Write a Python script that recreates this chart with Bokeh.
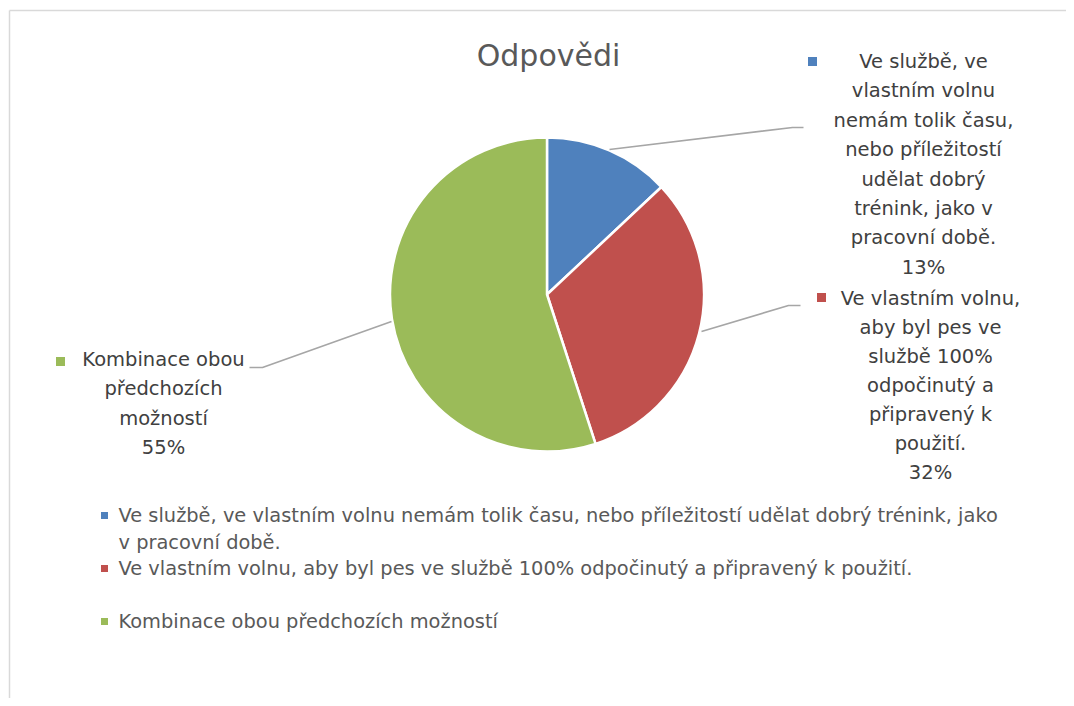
import math
from bokeh.plotting import figure
from bokeh.models import Range1d, ColumnDataSource
from bokeh.core.properties import value
from bokeh.embed import file_html
from bokeh.resources import INLINE

# ---- data ----
categories = [
    "Ve službě, ve vlastním volnu nemám tolik času, nebo příležitostí udělat dobrý trénink, jako v pracovní době.",
    "Ve vlastním volnu, aby byl pes ve službě 100% odpočinutý a připravený k použití.",
    "Kombinace obou předchozích možností",
]
shares = [0.13, 0.32, 0.55]
colors = ["#4F81BD", "#C0504D", "#9BBB59"]
title_text = "Odpovědi"

# wrapped data-label lines (as shown in the chart)
label_lines = [
    ["Ve službě, ve", "vlastním volnu", "nemám tolik času,", "nebo příležitostí",
     "udělat dobrý", "trénink, jako v", "pracovní době."],
    ["Ve vlastním volnu,", "aby byl pes ve", "službě 100%", "odpočinutý a",
     "připravený k", "použití."],
    ["Kombinace obou", "předchozích", "možností"],
]
legend_lines = [
    ["Ve službě, ve vlastním volnu nemám tolik času, nebo příležitostí udělat dobrý trénink, jako",
     "v pracovní době."],
    ["Ve vlastním volnu, aby byl pes ve službě 100% odpočinutý a připravený k použití."],
    ["Kombinace obou předchozích možností"],
]

# ---- layout (page pixel coordinates) ----
W, H = 1066, 698
OX, OY = 0, 0
FONT = "DejaVu Sans"


def X(px):
    return px - OX


def Y(py):
    return H - (py - OY)


p = figure(width=W, height=H, output_backend="svg", toolbar_location=None,
           x_range=Range1d(0, W), y_range=Range1d(0, H), min_border=0)
p.axis.visible = False
p.grid.visible = False
p.outline_line_color = None
p.background_fill_color = "white"

# frame
p.line([X(9), X(9)], [Y(706), Y(10)], line_color="#D9D9D9", line_width=1.5)
p.line([X(9), X(1074)], [Y(10), Y(10)], line_color="#D9D9D9", line_width=1.5)

# title
p.text(x=[X(548)], y=[Y(55)], text=[title_text], text_font=value(FONT),
       text_font_size="30px", text_color="#595959", text_align="center",
       text_baseline="middle")

# pie
cx, cy, r = 546.5, 294, 157
starts, ends = [], []
cum = 0.0
for s in shares:
    starts.append(math.pi / 2 - cum * 2 * math.pi)
    cum += s
    ends.append(math.pi / 2 - cum * 2 * math.pi)
src = ColumnDataSource(dict(start=starts, end=ends, color=colors))
p.wedge(x=X(cx), y=Y(cy), radius=r, start_angle="start", end_angle="end",
        direction="clock", fill_color="color", line_color="white",
        line_width=2.5, source=src)

# leader lines
leaders = [
    ([609, 792, 803], [149, 127, 127]),
    ([701, 788, 800], [331, 305, 305]),
    ([391, 262, 249], [321, 367, 367]),
]
for lx, ly in leaders:
    p.line([X(v) for v in lx], [Y(v) for v in ly], line_color="#A6A6A6",
           line_width=1.6)

# data labels
label_cx = [923, 930, 163]
label_y0 = [61, 298, 359]
label_step = [29.4, 29.0, 29.3]
marker_pos = [(812, 61), (821, 297), (60, 361)]
tx, ty, tt = [], [], []
for i, lines in enumerate(label_lines):
    allines = lines + [f"{round(shares[i] * 100)}%"]
    for j, ln in enumerate(allines):
        tx.append(X(label_cx[i]))
        ty.append(Y(label_y0[i] + j * label_step[i]))
        tt.append(ln)
p.text(x=tx, y=ty, text=tt, text_font=value(FONT), text_font_size="19.5px",
       text_color="#404040", text_align="center", text_baseline="middle")
p.rect(x=[X(m[0]) for m in marker_pos], y=[Y(m[1]) for m in marker_pos],
       width=9, height=9, fill_color=colors, line_color=None)

# legend
leg_y = [515, 568, 621]
lx, ly, lt = [], [], []
for i, lines in enumerate(legend_lines):
    for j, ln in enumerate(lines):
        lx.append(X(118))
        ly.append(Y(leg_y[i] + j * 27))
        lt.append(ln)
p.text(x=lx, y=ly, text=lt, text_font=value(FONT), text_font_size="19.4px",
       text_color="#595959", text_align="left", text_baseline="middle")
p.rect(x=[X(104)] * 3, y=[Y(v) for v in leg_y], width=7, height=7,
       fill_color=colors, line_color=None)

open("out.html", "w").write(file_html(p, INLINE))
